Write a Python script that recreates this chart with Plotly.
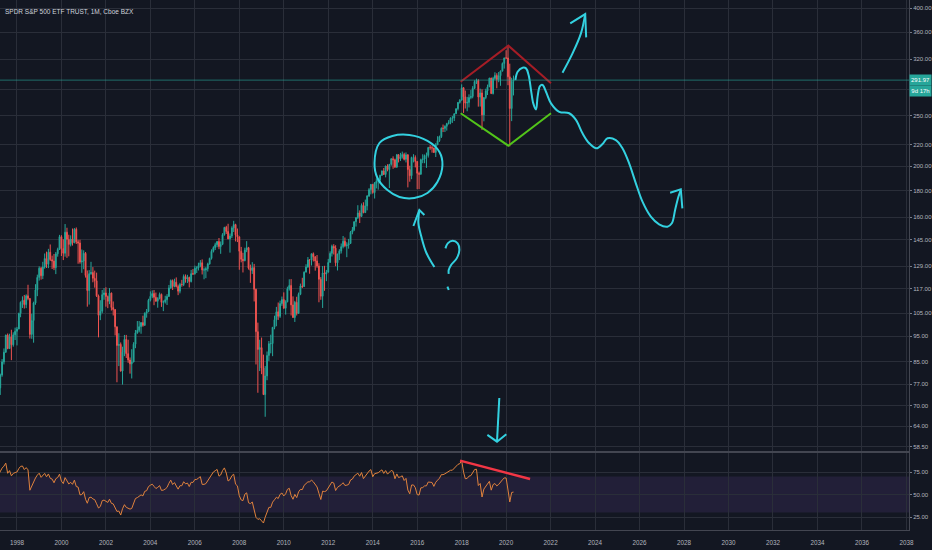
import numpy as np
import pandas as pd
import plotly.graph_objects as go
from plotly.subplots import make_subplots

FONT = "Liberation Sans Narrow, Liberation Sans, Arial, sans-serif"
BG = "#131722"
GRID = "#2a2e39"
AXIS_LINE = "#434651"
TEXT = "#b2b5be"
UP = "#26a69a"
DOWN = "#ef5350"
CYAN = "#33d1e0"
DARK_RED = "#a51d26"
GREEN = "#52c41a"
RSI_COLOR = "#e0823d"

# SPY monthly bars, first bar = March 1997, last bar = May 2020 (in progress)
FIRST_MONTH = "1997-03-01"

closes = [
    75.71, 80.13, 84.83, 88.51, 95.43, 89.95, 94.73, 91.46, 95.54, 97.04,
    98.03, 104.93, 110.18, 111.18, 109.08, 113.38, 112.07, 95.73, 101.70, 109.87, 116.36, 122.92,
    127.96, 123.83, 128.64, 133.52, 130.18, 137.27, 132.87, 132.04, 128.27, 136.29, 138.89, 146.93,
    139.45, 136.64, 149.86, 145.24, 142.06, 145.46, 143.08, 151.77, 143.65, 142.94, 131.50, 132.03,
    136.60, 123.99, 116.03, 124.95, 125.58, 122.44, 121.12, 113.36, 104.09, 105.98, 113.95, 114.81,
    113.02, 110.67, 114.74, 107.69, 106.71, 98.98, 91.16, 91.61, 81.53, 88.58, 93.63, 87.98,
    85.57, 84.12, 84.82, 91.69, 96.36, 97.45, 99.03, 100.80, 99.60, 105.07, 105.82, 111.19,
    113.11, 114.49, 112.62, 110.73, 112.07, 114.08, 110.17, 110.42, 111.46, 113.02, 117.38, 121.19,
    118.13, 120.36, 118.06, 115.69, 119.15, 119.13, 123.42, 122.03, 122.88, 120.70, 124.95, 124.83,
    128.01, 128.07, 129.48, 131.06, 127.01, 127.02, 127.67, 130.38, 133.59, 137.79, 140.06, 141.83,
    143.82, 140.68, 142.09, 148.24, 153.06, 150.34, 145.53, 147.40, 152.68, 154.94, 148.11, 146.84,
    137.86, 133.06, 132.27, 138.56, 140.04, 128.00, 126.74, 128.28, 116.64, 96.88, 89.62, 90.33,
    82.59, 73.51, 79.79, 87.28, 91.91, 91.93, 98.75, 102.06, 105.71, 103.62, 109.56, 111.51,
    107.39, 110.45, 116.94, 118.67, 108.94, 103.07, 110.16, 104.93, 114.12, 118.33, 118.06, 125.76,
    128.61, 132.72, 132.58, 136.36, 134.52, 132.06, 129.23, 121.89, 113.14, 125.33, 124.70, 125.76,
    131.24, 136.57, 140.85, 139.79, 131.03, 136.22, 137.93, 140.66, 144.07, 141.22, 141.62, 142.62,
    149.81, 151.47, 156.92, 159.76, 163.07, 160.63, 168.57, 163.30, 168.16, 175.65, 180.58, 184.84,
    178.26, 185.95, 187.23, 188.40, 192.36, 196.02, 193.07, 200.34, 197.23, 201.81, 206.76, 205.89,
    199.50, 210.45, 206.79, 208.55, 210.74, 206.31, 210.38, 197.22, 192.00, 207.94, 208.04, 204.39,
    194.02, 193.22, 205.97, 206.53, 209.70, 209.89, 217.36, 217.10, 216.83, 212.62, 219.88, 223.88,
    227.89, 236.36, 236.27, 238.42, 241.18, 242.34, 247.03, 247.17, 251.94, 257.53, 264.76, 267.36,
    282.38, 271.38, 264.09, 264.81, 270.53, 271.84, 281.63, 290.15, 291.40, 271.17, 276.02, 250.69,
    270.41, 278.45, 283.44, 294.58, 275.21, 294.18, 298.04, 292.65, 297.67, 303.76, 314.10, 321.86,
    321.73, 296.26, 257.75, 290.48, 291.97,
]

highs = [
    80.5, 80.6, 85.9, 90.0, 95.6, 96.1, 96.0, 97.7, 96.6, 98.6,
    98.9, 105.3, 110.6, 113.1, 113.8, 114.1, 119.0, 112.1, 104.8, 110.5, 119.3, 124.4,
    129.0, 128.7, 131.6, 136.5, 137.6, 139.3, 142.0, 135.2, 136.2, 137.4, 140.0, 148.1,
    147.9, 145.3, 155.3, 152.8, 148.2, 147.8, 152.3, 152.6, 153.0, 145.0, 145.0, 138.9,
    138.4, 137.4, 126.7, 126.9, 131.6, 128.6, 126.6, 125.5, 114.0, 111.2, 116.3, 117.3,
    117.7, 113.5, 117.3, 115.0, 110.6, 107.0, 99.0, 96.2, 92.4, 90.7, 95.5, 95.5,
    93.5, 86.5, 89.7, 92.5, 97.6, 101.5, 101.5, 101.0, 103.9, 105.4, 107.0, 111.9,
    115.6, 116.1, 116.3, 115.0, 112.7, 115.0, 114.5, 111.1, 113.4, 114.2, 118.9, 121.8,
    121.8, 122.2, 122.9, 119.1, 120.0, 121.6, 124.5, 124.5, 124.3, 123.3, 127.0, 127.5,
    129.4, 129.1, 131.1, 132.6, 133.0, 128.3, 128.6, 131.1, 134.0, 139.0, 140.9, 143.1,
    144.1, 146.1, 143.9, 149.2, 153.4, 154.1, 155.5, 149.0, 153.8, 157.5, 155.5, 152.3,
    147.1, 140.5, 136.9, 140.0, 144.1, 140.5, 130.0, 131.4, 130.4, 117.0, 100.8, 93.5,
    94.4, 87.6, 83.3, 88.8, 93.0, 95.6, 98.8, 103.9, 108.0, 110.1, 111.0, 113.0,
    115.1, 111.2, 118.0, 121.9, 122.0, 113.1, 110.9, 112.9, 115.0, 119.6, 122.7, 126.2,
    130.2, 134.4, 133.2, 136.4, 137.1, 134.9, 135.6, 130.8, 123.1, 129.2, 129.3, 127.0,
    133.3, 137.8, 141.9, 142.2, 141.5, 136.3, 139.1, 142.6, 147.4, 146.4, 143.4, 145.5,
    150.6, 153.3, 157.1, 159.8, 168.7, 164.9, 170.0, 170.9, 172.9, 176.3, 181.8, 185.0,
    185.0, 186.7, 189.7, 189.0, 192.8, 196.5, 198.6, 200.6, 201.9, 202.0, 207.3, 209.0,
    206.9, 211.2, 211.0, 212.2, 213.4, 212.3, 212.6, 211.0, 200.6, 208.7, 211.0, 209.9,
    204.6, 195.5, 206.9, 210.9, 210.7, 212.5, 217.5, 219.6, 219.2, 216.9, 221.5, 228.3,
    228.9, 237.3, 240.3, 239.5, 242.1, 245.0, 248.0, 249.5, 252.3, 258.0, 265.2, 268.6,
    286.6, 283.1, 278.9, 271.3, 274.3, 279.5, 284.4, 291.7, 293.9, 293.2, 281.2, 280.4,
    270.9, 281.2, 286.3, 294.9, 295.0, 296.3, 302.2, 300.9, 302.5, 304.6, 315.5, 322.1,
    332.9, 339.1, 313.8, 294.9, 297.9,
]

lows = [
    75.0, 73.4, 79.5, 83.9, 88.3, 89.7, 89.8, 85.5, 90.7, 93.4,
    91.2, 97.9, 103.2, 107.5, 107.2, 107.4, 111.2, 94.0, 93.9, 92.3, 109.0, 113.2,
    121.2, 121.7, 122.0, 127.7, 128.1, 128.0, 132.1, 127.5, 126.9, 124.7, 134.6, 138.6,
    135.0, 132.6, 134.6, 133.9, 134.8, 140.8, 141.3, 142.8, 142.3, 130.5, 130.5, 125.4,
    127.4, 122.8, 108.1, 109.1, 124.3, 120.3, 117.5, 112.8, 94.5, 101.9, 105.0, 111.4,
    108.1, 107.4, 109.3, 106.3, 104.0, 95.3, 77.6, 83.3, 81.3, 76.8, 87.0, 86.3,
    84.5, 80.6, 78.9, 84.7, 90.1, 96.0, 96.6, 96.0, 99.0, 99.4, 103.0, 105.5,
    110.6, 112.2, 108.8, 110.5, 107.6, 111.6, 108.0, 106.0, 109.6, 108.9, 113.0, 116.9,
    116.3, 117.7, 117.6, 113.7, 114.6, 118.0, 118.3, 120.1, 119.9, 117.6, 120.2, 124.2,
    124.4, 125.3, 126.7, 128.5, 124.5, 121.9, 122.5, 126.1, 130.0, 132.9, 137.1, 138.6,
    140.3, 139.1, 136.3, 141.6, 147.6, 148.7, 145.3, 137.0, 146.0, 150.0, 143.9, 143.5,
    127.1, 131.3, 125.6, 131.9, 137.3, 127.2, 120.0, 124.8, 110.6, 83.9, 74.1, 81.5,
    80.4, 73.4, 66.7, 78.3, 85.2, 88.1, 87.0, 97.9, 99.2, 102.0, 102.9, 108.5,
    107.1, 104.4, 110.2, 116.0, 104.0, 103.0, 101.1, 104.0, 104.9, 113.7, 117.3, 117.9,
    125.7, 128.2, 124.9, 129.5, 131.8, 126.6, 128.2, 110.2, 111.4, 107.5, 115.9, 120.9,
    125.6, 131.2, 134.7, 135.9, 129.1, 126.7, 132.6, 136.5, 139.6, 140.3, 134.3, 139.4,
    142.4, 148.5, 150.6, 153.6, 158.8, 156.0, 160.2, 162.8, 163.0, 164.9, 174.9, 176.9,
    177.4, 173.7, 181.6, 180.6, 185.5, 191.8, 192.6, 190.6, 195.7, 181.9, 200.6, 197.9,
    198.6, 198.6, 203.5, 204.8, 207.0, 205.3, 203.5, 182.4, 187.0, 189.1, 203.5, 199.1,
    181.0, 181.0, 192.9, 202.8, 202.8, 198.7, 207.9, 215.1, 212.4, 212.1, 208.4, 219.5,
    222.7, 226.5, 232.5, 232.5, 234.0, 240.4, 240.6, 242.0, 244.0, 251.9, 255.6, 263.4,
    267.1, 252.9, 257.8, 254.7, 259.0, 268.5, 269.6, 280.7, 287.1, 259.9, 260.0, 234.6,
    243.7, 268.5, 273.5, 283.3, 275.0, 274.2, 292.3, 281.7, 289.3, 284.8, 303.2, 307.1,
    320.4, 285.5, 218.3, 243.9, 272.99,
]

# closes Jan 1993 - Feb 1997, only used to warm up the RSI and give the first open
warmup_closes = [
    43.88, 44.34, 45.17, 44.02, 45.02, 45.05, 44.81, 46.36, 45.89, 46.78, 46.18, 46.65,
    48.16, 46.71, 44.58, 45.09, 45.65, 44.43, 45.83, 47.55, 46.27, 47.24, 45.37, 45.93,
    47.04, 48.74, 50.07, 51.47, 53.34, 54.48, 56.21, 56.19, 58.44, 58.15, 60.54, 61.59,
    63.60, 64.04, 64.55, 65.42, 66.91, 67.06, 63.10, 65.20, 68.73, 70.53, 75.70, 74.07,
    78.62, 79.08,
]

# right price scale
price_ticks = [400, 360, 320, 280, 250, 220, 200, 180, 160, 145, 129, 117, 105, 95, 85, 77, 70, 64, 58.5]
hidden_price_ticks = [280]  # covered by the last price / countdown label
rsi_ticks = [25, 50, 75]
countdown = "9d 17h"

# chart drawings (time, price) as stored by the charting tool
diamond_top_dates = ["2017-12-15", "2020-02-06", "2022-01-07"]
diamond_top_prices = [289.9, 339.6, 287.9]
diamond_bottom_dates = ["2017-12-15", "2020-02-06", "2022-01-07"]
diamond_bottom_prices = [252.5, 219.0, 252.5]

scenario_dates = [
    "2020-06-01", "2020-07-08", "2020-09-28", "2020-11-23", "2021-01-04", "2021-02-13",
    "2021-03-22", "2021-05-06", "2021-06-01", "2021-07-10", "2021-08-22", "2021-10-17",
    "2022-01-07", "2022-05-23", "2022-11-02", "2023-02-21", "2023-06-09", "2023-09-27",
    "2024-01-24", "2024-05-02", "2024-07-23", "2024-12-08", "2025-03-26", "2025-07-14",
    "2025-11-01", "2026-02-18", "2026-07-05", "2026-11-18", "2027-04-04", "2027-06-15",
    "2027-08-08", "2027-10-01", "2027-11-09",
]
scenario_prices = [
    292.1, 302.9, 308.3, 307.4, 298.6, 279.5, 263.7, 256.8, 271.5, 284.5, 285.8, 277.4,
    263.7, 254.1, 252.5, 245.2, 231.2, 221.3, 216.5, 220.6, 226.2, 224.5, 216.5, 202.7,
    185.7, 171.3, 160.4, 155.1, 153.5, 155.8, 165.2, 175.1, 180.3,
]
scenario_head_dates = ["2027-05-18", "2027-11-09", "2027-12-05"]
scenario_head_prices = [178.2, 180.9, 166.4]

bull_arrow_dates = ["2022-07-15", "2022-12-27", "2023-05-14", "2023-07-23"]
bull_arrow_prices = [301.6, 328.3, 358.4, 390.1]
bull_head_dates = ["2022-11-19", "2023-07-23", "2023-08-08"]
bull_head_prices = [374.5, 390.1, 352.2]

circle_dates = [
    "2014-01-30", "2014-04-21", "2014-11-20", "2015-08-26", "2016-06-18", "2017-01-01",
    "2017-02-19", "2016-11-28", "2016-06-18", "2015-11-16", "2015-03-15", "2014-08-30",
    "2014-03-19", "2014-01-30",
]
circle_prices = [203.0, 221.6, 228.5, 229.5, 223.6, 213.1, 201.2, 186.7, 178.0, 174.1, 174.9, 180.3, 190.1, 203.0]

question_dates = [
    "2017-04-09", "2017-05-17", "2017-08-07", "2017-10-27", "2017-11-24", "2017-10-11",
    "2017-07-11", "2017-06-02", "2017-06-02",
]
question_prices = [139.6, 142.7, 144.3, 142.7, 138.6, 133.6, 129.8, 127.0, 124.8]
question_dot_dates = ["2017-05-12", "2017-06-02"]
question_dot_prices = [118.0, 116.3]

pointer_dates = ["2016-10-10", "2016-06-01", "2016-03-11", "2016-01-21", "2016-02-06"]
pointer_prices = [128.6, 136.8, 146.7, 156.1, 165.2]
pointer_head_dates = ["2015-10-31", "2016-02-06", "2016-04-28"]
pointer_head_prices = [154.0, 165.2, 161.6]

down_arrow_dates = ["2019-09-11", "2019-08-04"]
down_arrow_prices = [72.4, 59.8]
down_head_dates = ["2019-02-27", "2019-08-04", "2020-01-04"]
down_head_prices = [61.6, 59.8, 61.8]

rsi_trend_dates = ["2017-12-05", "2021-01-28"]
rsi_trend_values = [87.6, 67.2]


def rsi(values, length=14):
    """Wilder RSI, same as the chart's RSI(14) on closes."""
    values = np.asarray(values, dtype=float)
    change = np.diff(values)
    gain = np.where(change > 0, change, 0.0)
    loss = np.where(change < 0, -change, 0.0)
    out = np.full(len(values), np.nan)
    avg_gain = gain[:length].mean()
    avg_loss = loss[:length].mean()
    out[length] = 100 - 100 / (1 + avg_gain / avg_loss)
    for i in range(length + 1, len(values)):
        avg_gain = (avg_gain * (length - 1) + gain[i - 1]) / length
        avg_loss = (avg_loss * (length - 1) + loss[i - 1]) / length
        out[i] = 100 - 100 / (1 + avg_gain / avg_loss) if avg_loss else 100.0
    return out


months = pd.date_range(FIRST_MONTH, periods=len(closes), freq="MS")
opens = [warmup_closes[-1]] + closes[:-1]  # monthly open = previous close
rsi_values = rsi(warmup_closes + closes)[len(warmup_closes):]

fig = make_subplots(rows=2, cols=1, shared_xaxes=True, vertical_spacing=0, row_heights=[452, 78])

fig.add_trace(
    go.Candlestick(
        x=months,
        open=opens,
        high=highs,
        low=lows,
        close=closes,
        increasing=dict(line=dict(color=UP, width=1), fillcolor=UP),
        decreasing=dict(line=dict(color=DOWN, width=1), fillcolor=DOWN),
        showlegend=False,
    ),
    row=1,
    col=1,
)


def add_drawing(dates, values, color, width=2, spline=False, row=1):
    fig.add_trace(
        go.Scatter(
            x=dates,
            y=values,
            mode="lines",
            line=dict(color=color, width=width, shape="spline" if spline else "linear", smoothing=1.0),
            showlegend=False,
        ),
        row=row,
        col=1,
    )


add_drawing(diamond_top_dates, diamond_top_prices, DARK_RED)
add_drawing(diamond_bottom_dates, diamond_bottom_prices, GREEN)
add_drawing(scenario_dates, scenario_prices, CYAN, spline=True)
add_drawing(scenario_head_dates, scenario_head_prices, CYAN)
add_drawing(bull_arrow_dates, bull_arrow_prices, CYAN, spline=True)
add_drawing(bull_head_dates, bull_head_prices, CYAN)
add_drawing(circle_dates, circle_prices, CYAN, spline=True)
add_drawing(question_dates, question_prices, CYAN, spline=True)
add_drawing(question_dot_dates, question_dot_prices, CYAN)
add_drawing(pointer_dates, pointer_prices, CYAN, spline=True)
add_drawing(pointer_head_dates, pointer_head_prices, CYAN)
add_drawing(down_arrow_dates, down_arrow_prices, CYAN)
add_drawing(down_head_dates, down_head_prices, CYAN)

# RSI pane
fig.add_shape(
    type="rect", xref="x2 domain", x0=0, x1=1, yref="y2", y0=30, y1=70,
    fillcolor="rgba(126,87,194,0.14)", line=dict(width=0), layer="below",
)
for level in (70, 30):
    fig.add_hline(y=level, row=2, col=1, line=dict(color="#9598a1", width=1, dash="3px,3px"))

fig.add_trace(
    go.Scatter(x=months, y=rsi_values, mode="lines", line=dict(color=RSI_COLOR, width=1), showlegend=False),
    row=2,
    col=1,
)
add_drawing(rsi_trend_dates, rsi_trend_values, "#f23645", width=2.5, row=2)

# last price line
fig.add_hline(y=closes[-1], row=1, col=1, line=dict(color="rgba(38,166,154,0.6)", width=1))

tick_font = dict(family=FONT, size=6.0, color=TEXT)

fig.update_xaxes(
    type="date",
    range=["1997-03-28", "2038-02-13"],
    tick0="1998-01-01",
    dtick="M24",
    tickformat="%Y",
    showgrid=True,
    gridcolor=GRID,
    gridwidth=1,
    zeroline=False,
    rangeslider_visible=False,
    tickfont=dict(family=FONT, size=6.3, color=TEXT),
    automargin=False,
)
fig.update_xaxes(row=2, col=1, showline=True, linecolor=AXIS_LINE, linewidth=1, ticks="", ticklabelstandoff=6)

axis_style = dict(
    side="right",
    ticks="outside",
    ticklen=2,
    tickcolor="#787b86",
    ticklabelstandoff=0,
    gridcolor=GRID,
    showline=True,
    linecolor=AXIS_LINE,
    zeroline=False,
    tickfont=tick_font,
    automargin=False,
)
fig.update_yaxes(
    row=1,
    col=1,
    type="log",
    range=[np.log10(57.15), np.log10(414.9)],
    tickvals=price_ticks,
    ticktext=["" if v in hidden_price_ticks else f"{v:.2f}" for v in price_ticks],
    **axis_style,
)
fig.update_yaxes(
    row=2,
    col=1,
    range=[10.6, 97.2],
    tickvals=rsi_ticks,
    ticktext=[f"{v:.2f}" for v in rsi_ticks],
    **axis_style,
)

# pane separator
fig.add_shape(
    type="line", xref="paper", x0=0, x1=1, yref="paper", y0=78 / 530, y1=78 / 530,
    line=dict(color=AXIS_LINE, width=2),
)

fig.add_annotation(
    xref="paper", yref="paper", x=0, y=1, xanchor="left", yanchor="top", xshift=3, yshift=-6,
    text="SPDR S&P 500 ETF TRUST, 1M, Cboe BZX", showarrow=False,
    font=dict(family=FONT, size=6.5, color="#d1d4dc"),
)
for text, shift in ((f"{closes[-1]:.2f}", 0), (countdown, -11)):
    fig.add_annotation(
        xref="paper", yref="y", x=1, y=np.log10(closes[-1]), xanchor="left", yanchor="middle",
        yshift=shift, text=text, showarrow=False, bgcolor=UP, width=19, height=8, borderpad=1,
        font=dict(family=FONT, size=6.0, color="#ffffff"),
    )

fig.update_layout(
    width=932,
    height=550,
    margin=dict(l=0, r=23, t=0, b=20),
    paper_bgcolor=BG,
    plot_bgcolor=BG,
    showlegend=False,
    hovermode=False,
    font=dict(family=FONT, color=TEXT),
)

# the page is shown edge to edge, so drop the browser's default body margin
fig.write_html(
    "out.html",
    config={"displayModeBar": False},
    post_script="document.body.style.margin = '0'; document.body.style.background = '#131722';",
)
